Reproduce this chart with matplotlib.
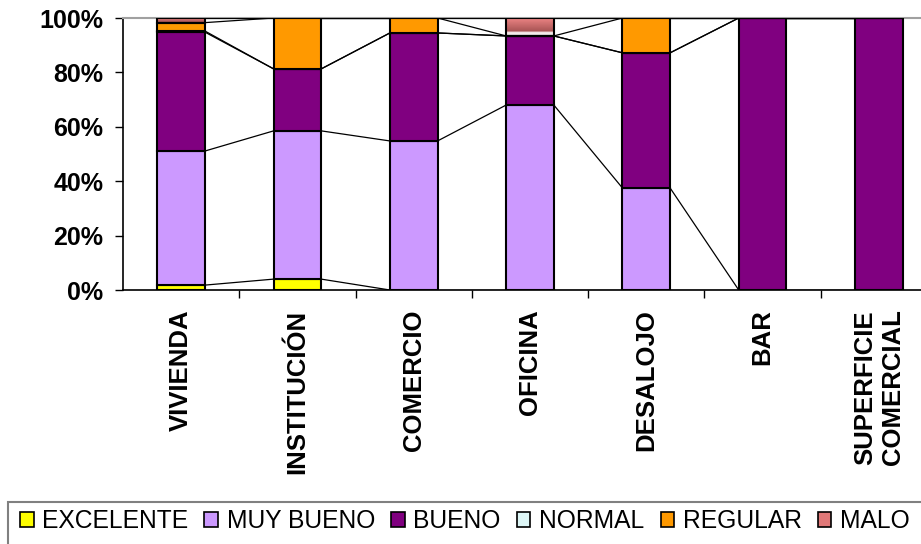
import matplotlib
matplotlib.use("Agg")
import matplotlib.pyplot as plt
import numpy as np
from matplotlib.patches import Patch, Rectangle
from matplotlib.colors import LinearSegmentedColormap
from matplotlib.ticker import FixedLocator, PercentFormatter

plt.rcParams['font.family'] = ['Liberation Sans', 'DejaVu Sans']

categories = ["VIVIENDA", "INSTITUCIÓN", "COMERCIO", "OFICINA", "DESALOJO", "BAR",
              "SUPERFICIE\nCOMERCIAL"]
series_names = ["EXCELENTE", "MUY BUENO", "BUENO", "NORMAL", "REGULAR", "MALO"]
excelente = [1.8, 4.0, 0.0, 0.0, 0.0, 0.0, 0.0]
muy_bueno = [49.3, 54.5, 54.8, 68.0, 37.5, 0.0, 0.0]
bueno     = [43.7, 22.8, 39.7, 25.4, 49.7, 100.0, 100.0]
normal    = [0.4, 0.0, 0.0, 0.0, 0.0, 0.0, 0.0]
regular   = [3.1, 18.7, 5.5, 0.0, 12.8, 0.0, 0.0]
malo      = [1.7, 0.0, 0.0, 6.6, 0.0, 0.0, 0.0]
yticks = [0, 20, 40, 60, 80, 100]

colors = ["#FFFF00", "#CC99FF", "#800080", "#DDF6F6", "#FF9900", "#E07878"]
values = [excelente, muy_bueno, bueno, normal, regular, malo]

W, H = 921, 544
fig = plt.figure(figsize=(W / 100, H / 100), dpi=100)
ax = fig.add_axes([123 / W, 1 - 290 / H, 814 / W, 272 / H])

x = np.arange(len(categories))
bw = 0.41
data = np.array(values, dtype=float)
totals = data.sum(axis=0)
shares = data / totals * 100
bottom = np.zeros(len(categories))
containers = []
for i, (name, col) in enumerate(zip(series_names, colors)):
    c = ax.bar(x, shares[i], bw, bottom=bottom, color=col, edgecolor="black",
               linewidth=1.5, zorder=3, label=name)
    containers.append(c)
    bottom = bottom + shares[i]

# gradient fill for MALO
grad_cmap = LinearSegmentedColormap.from_list(
    "malo", [(0.0, "#EC8484"), (0.72, "#A95555"), (0.8, "#F0E0E0"), (1.0, "#FFFFFF")])
grad = np.linspace(0, 1, 200).reshape(-1, 1)
for p in containers[5].patches:
    if p.get_height() <= 0:
        continue
    p.set_facecolor("none")
    bx, by, bwid, bh = p.get_x(), p.get_y(), p.get_width(), p.get_height()
    im = ax.imshow(grad, cmap=grad_cmap, extent=[bx, bx + bwid, by, by + bh],
                   aspect="auto", origin="upper", zorder=2.9, interpolation="nearest")
    im.set_clip_path(p)

# series lines
cum = np.cumsum(shares, axis=0)
for i in range(len(series_names)):
    for j in range(len(categories) - 1):
        ax.plot([x[j] + bw / 2, x[j + 1] - bw / 2], [cum[i][j], cum[i][j + 1]],
                color="black", linewidth=0.9, zorder=4, solid_capstyle="butt")

ax.set_xlim(-0.5, len(categories) - 0.5)
ax.set_ylim(0, 100)
ax.set_aspect("auto")

ax.set_yticks(yticks)
ax.yaxis.set_major_formatter(PercentFormatter(decimals=0))
ax.set_xticks(x)
ax.set_xticklabels(categories, rotation=90, fontsize=18.5, fontweight="bold",
                   va="top", ha="center", multialignment="center")
ax.xaxis.set_minor_locator(FixedLocator(np.arange(0.5, len(categories) - 0.5, 1.0)))
ax.tick_params(axis="x", which="major", length=0, pad=14.0)
ax.tick_params(axis="x", which="minor", length=5.8, width=1, direction="out", color="black")
ax.tick_params(axis="y", length=5.8, width=1, direction="out", pad=8.5, labelsize=18)
for lab in ax.get_yticklabels():
    lab.set_fontweight("bold")

ax.spines["right"].set_visible(False)
ax.spines["top"].set_color("#a0a0a0")
ax.spines["top"].set_linewidth(1.5)
ax.spines["left"].set_linewidth(1.2)
ax.spines["bottom"].set_linewidth(1.2)

# legend frame extending beyond figure
fig.patches.append(Rectangle((8 / W, -0.2), 1.2, 0.2 + 1 - 502 / H, transform=fig.transFigure,
                             fill=False, edgecolor="#808080", linewidth=1.5))
handles = [Patch(facecolor=c, edgecolor="black", linewidth=1.2) for c in colors]
fig.legend(handles, series_names, loc="center left", bbox_to_anchor=(20 / W, 1 - 521 / H),
           ncol=6, frameon=False, fontsize=17.7, handlelength=0.55, handleheight=0.6,
           handletextpad=0.35, columnspacing=0.66, borderpad=0, borderaxespad=0)

fig.savefig("out.png", dpi=100)
